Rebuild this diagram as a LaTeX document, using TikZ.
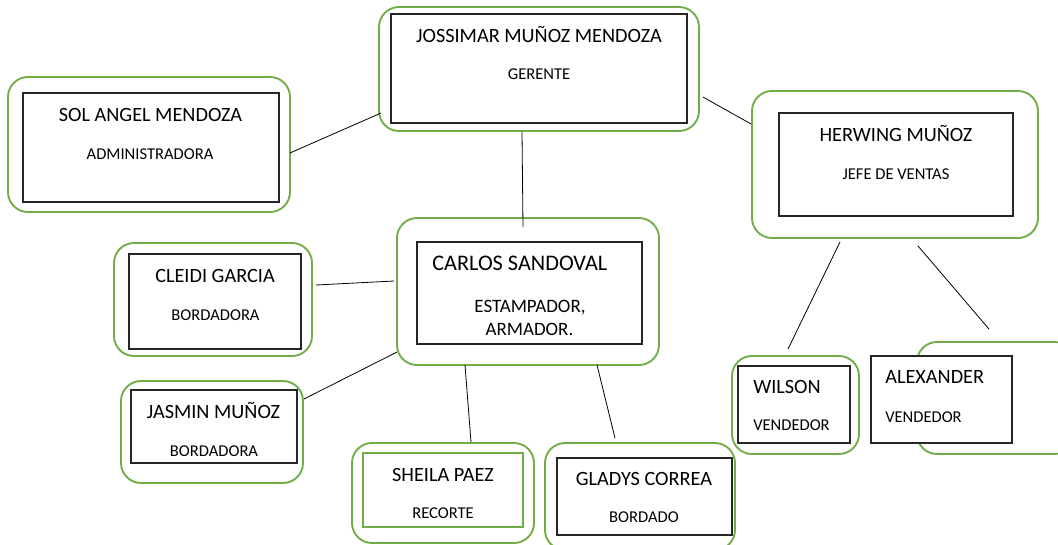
\documentclass[tikz,border=0pt]{standalone}
\usepackage{fontspec}
\setmainfont{Carlito}
\usetikzlibrary{calc}
\definecolor{verde}{HTML}{70AD47}
\tikzset{
  marco/.style 2 args={draw=verde, line width=1.4pt, rounded corners=15pt,
    minimum width=#1*0.75pt, minimum height=#2*0.75pt, inner sep=0pt},
  caja/.style 2 args={draw=black!85, line width=0.8pt,
    minimum width=#1*0.75pt, minimum height=#2*0.75pt, inner sep=0pt},
  nombre/.style={anchor=base, inner sep=0pt, font=\fontsize{15.2}{18}\selectfont},
  cargo/.style={anchor=base, inner sep=0pt, font=\fontsize{12.4}{15}\selectfont},
  enlace/.style={line width=0.6pt}
}
\begin{document}
\begin{tikzpicture}[x=0.75pt, y=-0.75pt]
\useasboundingbox (0,0) rectangle (1058,544);
\clip (0,0) rectangle (1058,544);

% === Gerente ===
\node[marco={320}{124}] (gerente) at (539,69) {};
\node[caja={296}{109}] (gerenteIn) at (539,68.5) {};
\node[nombre] (gerenteNom) at (539,42) {JOSSIMAR MUÑOZ MENDOZA};
\node[cargo] (gerenteCar) at (539,79) {GERENTE};

% === Administradora ===
\node[marco={282}{135}] (admin) at (149,144.5) {};
\node[caja={256}{109}] (adminIn) at (151,147.5) {};
\node[nombre] (adminNom) at (150.5,121) {SOL ANGEL MENDOZA};
\node[cargo] (adminCar) at (150,159) {ADMINISTRADORA};

% === Jefe de ventas ===
\node[marco={286}{147}] (ventas) at (895,164.5) {};
\node[caja={234}{103}] (ventasIn) at (896,164.5) {};
\node[nombre] (ventasNom) at (896,141) {HERWING MUÑOZ};
\node[cargo] (ventasCar) at (896,179) {JEFE DE VENTAS};

% === Estampador ===
\node[marco={262}{147}] (carlos) at (528,291.5) {};
\node[caja={225}{102}] (carlosIn) at (529.5,293) {};
\node[nombre, anchor=base west, font=\fontsize{16.7}{20}\selectfont] (carlosNom) at (432,270) {CARLOS SANDOVAL};
\node[cargo, font=\fontsize{14.2}{17}\selectfont] (carlosCar) at (530,312) {ESTAMPADOR,};
\node[cargo, font=\fontsize{14.2}{17}\selectfont] (carlosCarB) at (529.5,335) {ARMADOR.};

% === Bordadoras ===
\node[marco={198}{113}] (cleidi) at (213,299.5) {};
\node[caja={172}{95}] (cleidiIn) at (215,301.5) {};
\node[nombre] (cleidiNom) at (215,282) {CLEIDI GARCIA};
\node[cargo] (cleidiCar) at (215.5,320) {BORDADORA};

\node[marco={182}{102}] (jasmin) at (212,432) {};
\node[caja={166}{73}] (jasminIn) at (214,426.5) {};
\node[nombre] (jasminNom) at (213.5,418) {JASMIN MUÑOZ};
\node[cargo] (jasminCar) at (214,456) {BORDADORA};

% === Recorte y bordado ===
\node[marco={182}{100}] (sheila) at (443,493) {};
\node[caja={160}{74}, draw=verde, line width=1.2pt] (sheilaIn) at (443,490) {};
\node[nombre] (sheilaNom) at (443,481) {SHEILA PAEZ};
\node[cargo] (sheilaCar) at (443,518) {RECORTE};

\node[marco={190}{107}] (gladys) at (640,496.5) {};
\node[caja={175}{77}] (gladysIn) at (644.5,496.5) {};
\node[nombre] (gladysNom) at (644,485) {GLADYS CORREA};
\node[cargo] (gladysCar) at (644,522) {BORDADO};

% === Vendedores ===
\node[marco={127}{98}] (wilson) at (795.5,405) {};
\node[caja={112}{77}] (wilsonIn) at (794,404.5) {};
\node[nombre, anchor=base west] (wilsonNom) at (753,393) {WILSON};
\node[cargo, anchor=base west] (wilsonCar) at (753,430) {VENDEDOR};

\node[marco={158}{112}] (alex) at (996,398) {};
\node[caja={141}{87}, fill=white] (alexIn) at (941.5,399.5) {};
\node[nombre, anchor=base west] (alexNom) at (885,383) {ALEXANDER};
\node[cargo, anchor=base west] (alexCar) at (885,422) {VENDEDOR};

% === Enlaces ===
\draw[enlace] ($(gerente.west)+(3,44)$) -- ($(admin.east)+(-1,8.5)$);
\draw[enlace] ($(gerente.east)+(3,28)$) -- ($(ventas.west)+(0,-40.5)$);
\draw[enlace] ($(gerente.south)+(-17,0)$) -- ($(carlos.north)+(-5,10)$);
\draw[enlace] ($(ventas.south)+(-55,3)$) -- ($(wilson.north)+(-7.5,-6)$);
\draw[enlace] ($(ventas.south)+(23,7)$) -- ($(alex.north)+(-7,-12)$);
\draw[enlace] ($(carlos.west)+(-2,-10.5)$) -- ($(cleidi.east)+(3,-14.5)$);
\draw[enlace] ($(carlos.west)+(1,60.5)$) -- ($(jasmin.east)+(0,-33)$);
\draw[enlace] ($(carlos.south)+(-63,-1)$) -- ($(sheila.north)+(28,0)$);
\draw[enlace] ($(carlos.south)+(69,-1)$) -- ($(gladys.north)+(-25,-4)$);

\end{tikzpicture}
\end{document}
